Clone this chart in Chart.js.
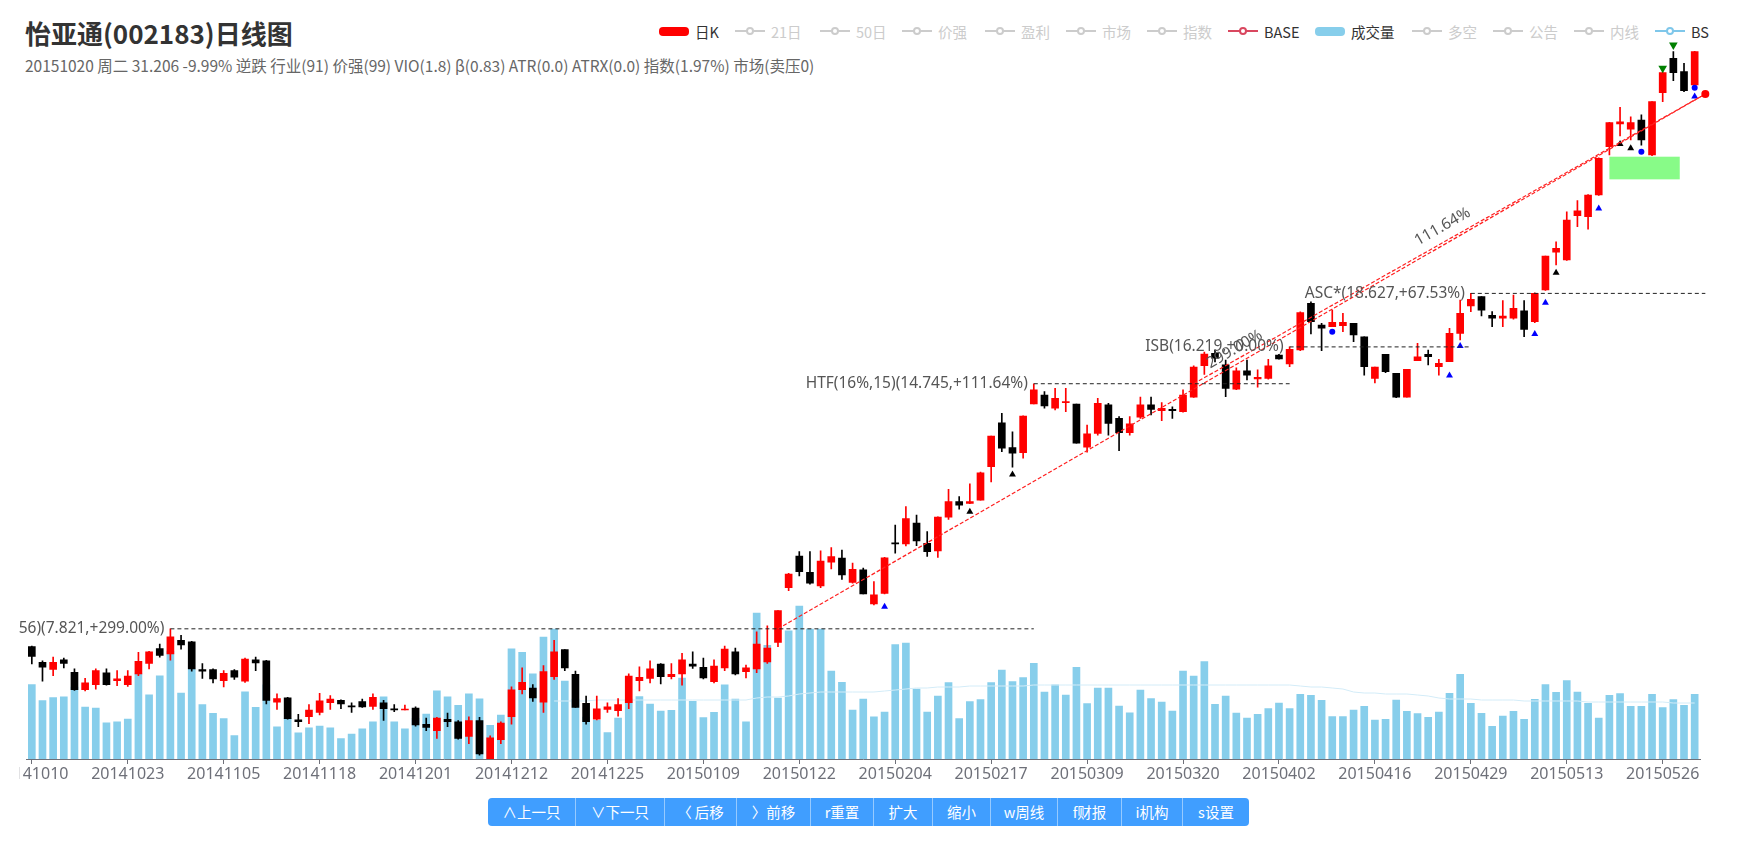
<!DOCTYPE html>
<html>
<head>
<meta charset="utf-8">
<title>怡亚通(002183)日线图</title>
<script src="https://cdn.jsdelivr.net/npm/chart.js"></script>
<style>
  body { margin:0; width:1745px; height:850px; background:#fff; overflow:hidden; position:relative;
         font-family:"Noto Sans CJK SC","Noto Sans",sans-serif; }
  #title { position:absolute; left:25px; top:18px; font-size:26px; font-weight:bold; color:#333; line-height:30px; white-space:nowrap; }
  #sub { position:absolute; left:25px; top:55px; font-size:15.5px; color:#666; line-height:20px; white-space:nowrap; }
  #wrap { position:absolute; left:19px; top:0; }
  .lg { position:absolute; top:22px; height:18px; display:flex; align-items:center; font-size:14.5px; white-space:nowrap; }
  .lg .ic { width:30px; height:18px; position:relative; margin-right:6px; }
  .lg .bar { position:absolute; left:0; top:4.5px; width:30px; height:9px; border-radius:4px; }
  .lg .ln { position:absolute; left:0; top:8px; width:30px; height:2px; }
  .lg .dot { position:absolute; left:11px; top:5px; width:8px; height:8px; border-radius:50%; border:2px solid; background:#fff; box-sizing:border-box; }
  #btns { position:absolute; left:488px; top:798px; height:28px; display:flex; border-radius:4px; overflow:hidden; }
  #btns div { color:#fff; background:#409eff; font-size:14.5px; line-height:28px; text-align:center;
              border-right:1px solid rgba(255,255,255,.45); box-sizing:border-box; white-space:nowrap; }
  #btns div:last-child { border-right:none; }
</style>
</head>
<body>
<div id="title">怡亚通(002183)日线图</div>
<div id="sub">20151020 周二 31.206 -9.99% 逆跌 行业(91) 价强(99) VIO(1.8) β(0.83) ATR(0.0) ATRX(0.0) 指数(1.97%) 市场(卖压0)</div>
<div id="legend"></div>
<div id="wrap"><canvas id="chart" width="1726" height="800"></canvas></div>
<div id="btns"></div>

<script>
// trading days shown in the window
const dates = [
  '20141010','20141013','20141014','20141015','20141016','20141017','20141020','20141021','20141022','20141023','20141024','20141027','20141028','20141029','20141030','20141031',
  '20141103','20141104','20141105','20141106','20141107','20141110','20141111','20141112','20141113','20141114','20141117','20141118','20141119','20141120','20141121','20141124','20141125','20141126','20141127','20141128',
  '20141201','20141202','20141203','20141204','20141205','20141208','20141209','20141210','20141211','20141212','20141215','20141216','20141217','20141218','20141219','20141222','20141223','20141224','20141225','20141226','20141229','20141230','20141231',
  '20150105','20150106','20150107','20150108','20150109','20150112','20150113','20150114','20150115','20150116','20150119','20150120','20150121','20150122','20150123','20150126','20150127','20150128','20150129','20150130',
  '20150202','20150203','20150204','20150205','20150206','20150209','20150210','20150211','20150212','20150213','20150216','20150217','20150225','20150226','20150227',
  '20150302','20150303','20150304','20150305','20150306','20150309','20150310','20150311','20150312','20150313','20150316','20150317','20150318','20150319','20150320','20150323','20150324','20150325','20150326','20150327','20150330','20150331',
  '20150401','20150402','20150403','20150407','20150408','20150409','20150410','20150413','20150414','20150415','20150416','20150417','20150420','20150421','20150422','20150423','20150424','20150427','20150428','20150429','20150430',
  '20150504','20150505','20150506','20150507','20150508','20150511','20150512','20150513','20150514','20150515','20150518','20150519','20150520','20150521','20150522','20150525','20150526','20150527','20150528','20150529'
];

const open = [7.47,7.17,7.04,7.22,6.99,6.68,6.77,6.98,6.84,6.77,
  6.96,7.15,7.43,7.33,7.59,7.56,7.04,7.04,6.84,7.02,
  6.83,7.22,7.20,6.47,6.54,6.18,6.23,6.30,6.46,6.50,
  6.41,6.48,6.40,6.46,6.36,6.34,6.37,6.11,6.01,6.19,
  6.15,5.92,6.17,5.59,5.87,6.23,6.68,6.71,6.47,6.91,
  7.41,6.95,6.45,6.19,6.35,6.33,6.46,6.84,6.88,7.14,
  6.91,6.96,7.14,7.08,6.82,7.07,7.37,7.00,7.05,7.18,
  7.55,8.70,9.44,9.05,8.74,9.29,9.39,8.82,9.11,8.34,
  8.57,9.77,9.74,10.28,9.76,9.57,10.44,10.87,10.82,10.91,
  11.90,13.33,12.50,12.34,13.99,14.32,13.84,14.04,13.99,12.51,
  12.97,13.96,13.48,12.99,13.52,13.96,13.75,13.80,13.72,14.24,
  15.45,15.95,15.48,14.54,15.25,14.93,14.95,15.88,15.52,16.09,
  18.16,17.16,17.09,17.13,17.24,16.65,14.95,15.91,15.15,14.24,
  15.65,15.91,15.41,15.61,16.80,18.03,18.47,17.60,17.47,17.47,
  17.81,17.31,18.79,20.72,20.31,22.77,22.72,24.03,27.23,28.87,
  28.48,29.17,26.65,31.31,34.23,33.06,31.94];

const high = [7.48,7.20,7.27,7.25,7.05,6.88,7.05,7.05,7.02,7.02,
  7.36,7.38,7.52,7.821,7.69,7.57,7.15,7.05,7.02,7.04,
  7.25,7.27,7.21,6.61,6.55,6.27,6.43,6.62,6.58,6.51,
  6.46,6.52,6.61,6.50,6.43,6.42,6.39,6.21,6.22,6.29,
  6.17,6.23,6.22,5.93,6.15,6.73,7.07,6.77,7.11,7.59,
  7.41,7.01,6.57,6.57,6.46,6.53,6.96,7.09,7.20,7.15,
  7.15,7.34,7.37,7.25,7.22,7.48,7.44,7.12,7.76,7.88,
  8.20,9.03,9.55,9.55,9.57,9.65,9.59,9.27,9.15,8.84,
  9.41,10.23,10.73,10.50,10.06,10.45,11.22,11.01,11.38,11.73,
  12.88,13.66,13.02,13.57,14.745,14.45,14.57,14.57,13.99,13.25,
  14.20,14.02,13.54,13.54,14.24,14.24,14.04,13.89,14.51,15.44,
  16.00,16.10,15.68,15.36,15.68,15.28,15.71,15.91,16.219,17.76,
  18.23,17.24,17.84,17.69,17.24,16.65,15.39,15.91,15.15,15.30,
  16.37,16.09,15.71,17.02,18.31,18.627,18.47,17.77,18.28,18.55,
  18.28,18.65,20.52,21.29,23.01,23.68,24.05,26.45,28.99,30.15,
  29.42,29.56,30.60,33.00,34.82,33.78,34.85];

const low = [7.14,6.83,6.93,7.07,6.67,6.66,6.69,6.76,6.75,6.74,
  6.93,7.05,7.27,7.21,7.42,7.01,6.88,6.80,6.73,6.86,
  6.81,7.02,6.44,6.35,6.19,6.07,6.12,6.26,6.35,6.36,
  6.30,6.38,6.35,6.17,6.31,6.34,6.08,6.01,5.89,6.07,
  5.88,5.81,5.64,5.58,5.81,6.11,6.61,6.48,6.30,6.86,
  7.02,6.38,6.11,6.18,6.30,6.24,6.36,6.66,6.80,6.78,
  6.87,6.76,7.06,6.87,6.80,7.02,6.94,6.89,6.98,7.15,
  7.47,8.63,8.97,8.78,8.70,9.13,8.89,8.80,8.56,8.32,
  8.56,9.51,9.69,9.70,9.43,9.41,10.38,10.66,10.81,10.91,
  11.44,12.37,11.88,12.16,13.99,13.84,13.78,13.72,12.64,12.35,
  12.91,12.91,12.40,12.91,13.48,13.60,13.40,13.48,13.70,14.23,
  15.10,15.60,14.26,14.52,14.89,14.61,14.92,15.71,15.41,16.06,
  16.77,16.06,17.09,16.87,16.44,15.08,14.78,15.17,14.22,14.24,
  15.65,15.48,15.08,15.61,16.51,17.77,17.57,17.09,17.09,17.42,
  16.65,17.27,18.77,20.05,20.28,22.14,21.99,24.00,26.65,27.99,
  27.70,27.34,26.60,30.59,32.30,31.39,31.90];

const close = [7.28,7.08,7.17,7.15,6.68,6.80,7.02,6.77,6.87,6.92,
  7.19,7.37,7.30,7.66,7.50,7.05,7.01,6.87,6.97,6.90,
  7.23,7.16,6.50,6.53,6.20,6.15,6.34,6.49,6.52,6.44,
  6.39,6.39,6.55,6.36,6.34,6.35,6.10,6.06,6.21,6.15,
  5.89,6.17,5.66,5.90,6.13,6.68,6.81,6.54,7.00,7.37,
  7.07,6.38,6.15,6.36,6.39,6.43,6.92,6.90,7.05,6.91,
  6.95,7.22,7.10,6.89,7.10,7.42,6.96,7.07,7.52,7.44,
  8.20,9.01,9.07,8.80,9.32,9.43,8.99,9.12,8.56,8.54,
  9.40,9.74,10.40,9.82,9.55,10.44,10.87,10.77,10.87,11.71,
  12.88,12.48,12.32,13.56,14.51,13.92,14.20,14.08,12.64,12.95,
  14.02,13.31,12.99,13.29,13.96,13.80,13.84,13.75,14.32,15.39,
  15.92,15.75,14.57,15.25,15.08,14.99,15.44,15.72,16.12,17.72,
  17.31,17.02,17.28,17.28,16.73,15.41,15.39,15.21,14.24,15.30,
  15.81,15.81,15.54,16.80,17.69,18.34,17.84,17.47,17.57,17.92,
  16.97,18.63,20.52,20.93,22.52,23.07,24.03,26.42,28.97,29.04,
  28.97,27.70,30.59,32.97,32.97,31.47,34.82];

// volume (万股)
const volume = [745,584,614,621,718,520,510,362,372,399,
  852,641,832,1077,658,899,544,456,403,235,
  671,517,742,322,406,262,312,329,312,205,
  248,302,372,621,372,302,406,450,681,621,
  537,651,601,336,440,1101,1067,852,1220,1300,
  780,600,420,387,265,410,600,625,550,480,
  487,810,576,414,466,742,598,372,1460,1136,
  608,1282,1530,1298,1298,880,766,488,599,421,
  468,1144,1160,699,468,629,763,405,575,595,
  763,890,773,813,957,669,742,639,916,555,
  709,709,528,462,689,605,569,479,880,830,
  973,547,630,460,410,447,503,560,503,647,
  637,587,423,423,490,527,390,397,590,477,
  453,417,470,657,847,557,457,327,430,477,
  397,597,743,667,783,670,557,410,637,653,
  527,527,647,513,593,537,647];

// 50-day volume average, first value belongs to dates[maStart]
const maStart = 49;
const volMA50 = [580,580,580,580,590,590,590,590,590,590,590,590,590,590,590,590,590,590,590,
  610,620,620,630,650,660,670,670,670,670,670,670,
  680,690,700,710,710,720,720,720,730,730,730,730,730,730,
  740,740,740,740,740,740,740,740,740,740,740,740,740,740,740,740,740,740,740,740,740,740,740,740,740,
  730,720,720,710,700,
  670,660,660,650,650,650,640,630,
  610,600,600,600,590,590,590,590,580,
  580,580,580,580,580,570,570,570,570,570,570,570,570,560,560,560];

// support / resistance levels: start bar index, end bar index
const levels = [
  { label:'HTF(19%,56)(7.821,+299.00%)', price:7.821, from:13, to:94 },
  { label:'HTF(16%,15)(14.745,+111.64%)', price:14.745, from:94, to:118 },
  { label:'ISB(16.219,+0.00%)', price:16.219, from:118, to:135 },
  { label:'ASC*(18.627,+67.53%)', price:18.627, from:135, to:157 }
];
const basePrice = 31.206, baseIndex = 157;
const trends = [
  { label:'299.00%', from:70, price:7.821 },
  { label:'111.64%', from:109, price:14.745 }
];

// BS signals [bar index, price]
const bsBuy  = [[80,8.28],[133,15.06],[134,16.26],[141,16.77],[142,18.18],[147,23.21],[156,31.0]];
const bsHold = [[88,10.59],[92,11.66],[143,19.65],[149,27.42],[150,27.11]];
const bsSell = [[153,33.35],[154,35.42]];
const bsDot  = [[122,16.87],[151,26.88],[156,31.72]];
const zone = { from:148, to:154.6, low:25.02, high:26.53 };

const legendItems = [
  { name:'日K', kind:'bar', color:'#ff0000', on:true, x:659 },
  { name:'21日', kind:'line', on:false, x:735 },
  { name:'50日', kind:'line', on:false, x:820 },
  { name:'价强', kind:'line', on:false, x:902 },
  { name:'盈利', kind:'line', on:false, x:985 },
  { name:'市场', kind:'line', on:false, x:1066 },
  { name:'指数', kind:'line', on:false, x:1147 },
  { name:'BASE', kind:'line', color:'#d9475f', on:true, x:1228 },
  { name:'成交量', kind:'bar', color:'#87ceeb', on:true, x:1315 },
  { name:'多空', kind:'line', on:false, x:1412 },
  { name:'公告', kind:'line', on:false, x:1493 },
  { name:'内线', kind:'line', on:false, x:1574 },
  { name:'BS', kind:'line', color:'#7fc7ea', on:true, x:1655 }
];
const buttons = [['∧上一只',88],['∨下一只',89],['〈 后移',72],['〉前移',74],['r重置',63],['扩大',59],['缩小',58],['w周线',67],['f财报',64],['i机构',61],['s设置',66]];

// legend + buttons
const lg = document.getElementById('legend');
legendItems.forEach(it => {
  const c = it.on ? it.color : '#ccc';
  const el = document.createElement('div');
  el.className = 'lg';
  el.style.left = it.x + 'px';
  el.style.color = it.on ? '#333' : '#ccc';
  const icon = it.kind === 'bar'
    ? '<div class="bar" style="background:' + c + '"></div>'
    : '<div class="ln" style="background:' + c + '"></div><div class="dot" style="border-color:' + c + '"></div>';
  el.innerHTML = '<div class="ic">' + icon + '</div><span>' + it.name + '</span>';
  lg.appendChild(el);
});
const bt = document.getElementById('btns');
buttons.forEach(([t, w]) => {
  const d = document.createElement('div');
  d.textContent = t;
  d.style.width = w + 'px';
  bt.appendChild(d);
});

const UP = '#ff0000', DOWN = '#000000';
const candleColor = open.map((o, i) => close[i] >= o ? UP : DOWN);
const pts = arr => arr.map(([x, y]) => ({ x, y }));
const labelFont = '15.5px "Noto Sans", "Noto Sans CJK SC", sans-serif';

const overlay = {
  id: 'overlay',
  beforeDatasetsDraw(chart) {
    const { ctx } = chart, xs = chart.scales.xl, ys = chart.scales.y;
    const x1 = xs.getPixelForValue(zone.from), x2 = xs.getPixelForValue(zone.to);
    const y1 = ys.getPixelForValue(zone.high), y2 = ys.getPixelForValue(zone.low);
    ctx.save();
    ctx.fillStyle = '#88fb88';
    ctx.fillRect(x1, y1, x2 - x1, y2 - y1);
    ctx.restore();
  },
  afterDatasetsDraw(chart) {
    const { ctx } = chart, xs = chart.scales.xl, ys = chart.scales.y;
    ctx.save();
    ctx.font = labelFont;
    ctx.fillStyle = '#555';
    ctx.textAlign = 'right';
    ctx.textBaseline = 'middle';
    levels.forEach(l => ctx.fillText(l.label, xs.getPixelForValue(l.from) - 6, ys.getPixelForValue(l.price)));
    ctx.textAlign = 'center';
    const bx = xs.getPixelForValue(baseIndex), by = ys.getPixelForValue(basePrice);
    trends.forEach(t => {
      const ax = xs.getPixelForValue(t.from), ay = ys.getPixelForValue(t.price);
      ctx.save();
      ctx.translate((ax + bx) / 2, (ay + by) / 2);
      ctx.rotate(Math.atan2(by - ay, bx - ax));
      ctx.fillText(t.label, 0, -14);
      ctx.restore();
    });
    // BASE end point (sits just past the last bar)
    ctx.fillStyle = '#ff0000';
    ctx.beginPath();
    ctx.arc(bx, by, 4, 0, Math.PI * 2);
    ctx.fill();
    ctx.restore();
  }
};

const lineOpts = { type:'line', xAxisID:'xl', yAxisID:'y', borderWidth:1, pointRadius:0, clip:false, order:0 };
const markOpts = { type:'scatter', xAxisID:'xl', yAxisID:'y', borderWidth:0, clip:false, order:0 };

const datasets = [
  { type:'bar', label:'日K', data: dates.map((d, i) => [open[i], close[i]]), backgroundColor: candleColor,
    barThickness:7, minBarLength:1, grouped:false, yAxisID:'y', order:1 },
  { type:'bar', label:'影线', data: dates.map((d, i) => [low[i], high[i]]), backgroundColor: candleColor,
    barThickness:1, grouped:false, yAxisID:'y', order:2 },
  { type:'bar', label:'成交量', data: volume, backgroundColor:'#87ceeb', barThickness:7, grouped:false, yAxisID:'yv', order:6 },
  { type:'line', label:'MA50', data: dates.map((d, i) => i < maStart ? null : volMA50[i - maStart]),
    borderColor:'#d3ecf8', borderWidth:1, pointRadius:0, yAxisID:'yv', order:5 },
  ...levels.map(l => Object.assign({}, lineOpts, {
    data:[{ x:l.from, y:l.price }, { x:l.to, y:l.price }], borderColor:'#222', borderDash:[4,3] })),
  ...trends.map(t => Object.assign({}, lineOpts, {
    data:[{ x:t.from, y:t.price }, { x:baseIndex, y:basePrice }], borderColor:'#ff2020', borderWidth:1.2, borderDash:[4,2] })),
  Object.assign({}, markOpts, { data: pts(bsBuy), pointStyle:'triangle', pointRadius:4, backgroundColor:'#0000ff' }),
  Object.assign({}, markOpts, { data: pts(bsHold), pointStyle:'triangle', pointRadius:4, backgroundColor:'#000' }),
  Object.assign({}, markOpts, { data: pts(bsSell), pointStyle:'triangle', rotation:180, pointRadius:5, backgroundColor:'#008000' }),
  Object.assign({}, markOpts, { data: pts(bsDot), pointStyle:'circle', pointRadius:3, backgroundColor:'#0000ff' })
];

Chart.defaults.font.family = '"Noto Sans", "Noto Sans CJK SC", sans-serif';

const ctx = document.getElementById('chart').getContext('2d');
const chart = new Chart(ctx, {
  type: 'bar',
  data: { labels: dates, datasets },
  options: {
    responsive: false,
    animation: false,
    devicePixelRatio: 1,
    events: [],
    layout: { padding: { left: 7.5, right: 45, top: 40, bottom: 11 } },
    plugins: { legend: { display: false }, tooltip: { enabled: false } },
    scales: {
      x: {
        type: 'category',
        offset: true,
        grid: { drawOnChartArea: false, drawTicks: true, tickLength: 5, offset: false,
                color: '#6e7079', tickColor: c => (c.index % 9 === 0 ? '#6e7079' : 'rgba(0,0,0,0)') },
        border: { display: true, color: '#6e7079' },
        ticks: { autoSkip: false, maxRotation: 0, minRotation: 0, padding: 1, color: '#6e7079',
                 font: { size: 16 }, callback: (v, i) => (i % 9 === 0 ? dates[i] : '') },
        afterFit: s => { s.paddingLeft = 0; s.paddingRight = 0; s.height = 30; }
      },
      xl: { type: 'linear', display: false, offset: false, grid: { offset: false }, min: -0.5, max: 156.5 },
      y: { type: 'logarithmic', display: false, min: 5.5845, max: 35.881 },
      yv: { type: 'linear', display: false, min: 0, max: 7190 }
    }
  },
  plugins: [overlay]
});
</script>
</body>
</html>
